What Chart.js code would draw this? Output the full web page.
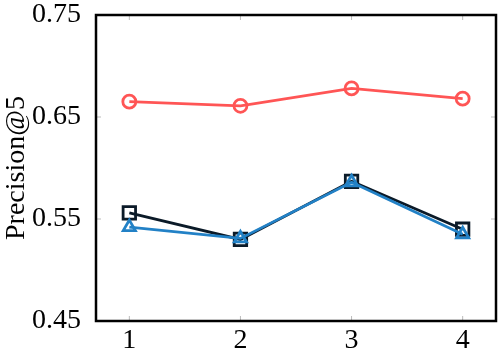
<!DOCTYPE html>
<html>
<head>
<meta charset="utf-8">
<script src="https://cdn.jsdelivr.net/npm/chart.js@4"></script>
<style>
  html, body { margin: 0; padding: 0; background: #fff; }
  #wrap { width: 498px; height: 354px; }
</style>
</head>
<body>
<div id="wrap"><canvas id="myChart" width="498" height="354"></canvas></div>
<script>
var xValues = [1, 2, 3, 4];
var yTicks = [0.45, 0.55, 0.65, 0.75];

var redValues   = [0.665, 0.661, 0.678, 0.668];
var blackValues = [0.556, 0.530, 0.587, 0.540];
var blueValues  = [0.542, 0.531, 0.586, 0.535];

var FONT = "'Liberation Serif', 'DejaVu Serif', serif";

function toPoints(values) {
    return values.map((v, i) => ({ x: xValues[i], y: v }));
}

// frame and little inner tick marks like pgfplots
var framePlugin = {
    id: 'frame',
    afterDatasetsDraw(chart) {
        var ctx = chart.ctx;
        var a = chart.chartArea;
        var xs = chart.scales.x;
        var ys = chart.scales.y;
        ctx.save();
        ctx.strokeStyle = '#bbbbbb';
        ctx.lineWidth = 1;
        xValues.forEach(v => {
            var px = xs.getPixelForValue(v);
            ctx.beginPath();
            ctx.moveTo(px, a.bottom); ctx.lineTo(px, a.bottom - 5);
            ctx.moveTo(px, a.top); ctx.lineTo(px, a.top + 5);
            ctx.stroke();
        });
        yTicks.forEach(v => {
            var py = ys.getPixelForValue(v);
            ctx.beginPath();
            ctx.moveTo(a.left, py); ctx.lineTo(a.left + 5, py);
            ctx.moveTo(a.right, py); ctx.lineTo(a.right - 5, py);
            ctx.stroke();
        });
        ctx.strokeStyle = '#000';
        ctx.lineWidth = 2.5;
        ctx.strokeRect(a.left, a.top, a.right - a.left, a.bottom - a.top);
        ctx.restore();
    }
};

const config = {
    type: 'line',
    data: {
        datasets: [
            {
                label: 'red',
                data: toPoints(redValues),
                borderColor: '#ff5555',
                backgroundColor: 'rgba(255,255,255,0)',
                borderWidth: 2.8,
                pointStyle: 'circle',
                pointRadius: 6.5,
                pointBorderWidth: 2.8,
                tension: 0,
                order: 3
            },
            {
                label: 'black',
                data: toPoints(blackValues),
                borderColor: '#0b1a28',
                backgroundColor: 'rgba(255,255,255,0)',
                borderWidth: 2.8,
                pointStyle: 'rect',
                pointRadius: 8.8,
                pointBorderWidth: 2.8,
                tension: 0,
                order: 2
            },
            {
                label: 'blue',
                data: toPoints(blueValues),
                borderColor: '#2281c6',
                backgroundColor: 'rgba(255,255,255,0)',
                borderWidth: 2.8,
                pointStyle: 'triangle',
                pointRadius: 7,
                pointBorderWidth: 2.8,
                tension: 0,
                order: 1
            }
        ]
    },
    options: {
        responsive: false,
        animation: false,
        layout: { autoPadding: false, padding: { top: 15, right: 2, left: 0, bottom: 0 } },
        plugins: { legend: { display: false }, tooltip: { enabled: false } },
        scales: {
            x: {
                type: 'linear',
                min: 0.7,
                max: 4.3,
                afterBuildTicks: s => { s.ticks = xValues.map(v => ({ value: v })); },
                afterFit: s => { s.height = 33; s.paddingLeft = 0; s.paddingRight = 0; },
                grid: { display: false },
                border: { display: false },
                ticks: {
                    color: '#000',
                    padding: -5,
                    font: { family: FONT, size: 28 },
                    callback: v => String(v)
                }
            },
            y: {
                min: 0.45,
                max: 0.75,
                afterBuildTicks: s => { s.ticks = yTicks.map(v => ({ value: v })); },
                afterFit: s => { s.width = 96; s.paddingTop = 0; s.paddingBottom = 0; },
                grid: { display: false },
                border: { display: false },
                title: {
                    display: true,
                    text: 'Precision@5',
                    color: '#000',
                    padding: 0,
                    font: { family: FONT, size: 28 }
                },
                ticks: {
                    color: '#000',
                    padding: 7,
                    font: { family: FONT, size: 28 },
                    callback: v => v.toFixed(2)
                }
            }
        }
    },
    plugins: [framePlugin]
};

new Chart(document.getElementById('myChart'), config);
</script>
</body>
</html>
